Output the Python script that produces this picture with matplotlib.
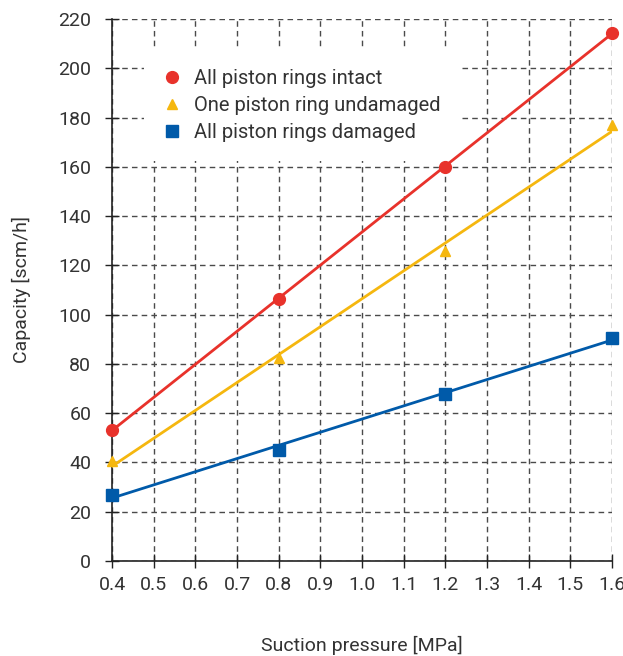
import numpy as np
import matplotlib.pyplot as plt
from matplotlib.lines import Line2D

plt.rcParams['font.family'] = ['Roboto', 'DejaVu Sans']
plt.rcParams['font.stretch'] = 'condensed'

pressure = [0.4, 0.8, 1.2, 1.6]
intact = [53.3, 106.3, 160.0, 214.3]
one_ring = [40.5, 82.3, 125.8, 177.0]
damaged = [26.8, 45.2, 67.8, 90.5]

labels = ["All piston rings intact", "One piston ring undamaged", "All piston rings damaged"]
colors = ["#e8322b", "#f5b70f", "#005aa9"]
markers = ["o", "^", "s"]

xticks = [0.4, 0.5, 0.6, 0.7, 0.8, 0.9, 1.0, 1.1, 1.2, 1.3, 1.4, 1.5, 1.6]
yticks = [0, 20, 40, 60, 80, 100, 120, 140, 160, 180, 200, 220]

txt = "#333333"

fig = plt.figure(figsize=(6.23, 6.56), dpi=100)
ax = fig.add_axes([0.18, 0.145, 0.802, 0.826])

for ys, c, m in zip([intact, one_ring, damaged], colors, markers):
    # trend line (least squares) + measured points
    k, b = np.polyfit(pressure, ys, 1)
    xs = np.array([pressure[0], pressure[-1]])
    ax.plot(xs, k * xs + b, color=c, lw=2, zorder=3)
    ax.plot(pressure, ys, ls="none", marker=m, ms=8.5 if m != "^" else 7.5,
            color=c, zorder=4, clip_on=False)

ax.set_xlim(0.4, 1.6)
ax.set_ylim(0, 220)
ax.set_xticks(xticks)
ax.set_xticklabels([f"{v:.1f}" for v in xticks])
ax.set_yticks(yticks)

ax.grid(True, ls=(0, (4, 3)), color="#4a4a4a", lw=1)
for s in ["top", "right"]:
    ax.spines[s].set_visible(False)
for s in ["left", "bottom"]:
    ax.spines[s].set_color("#222222")
    ax.spines[s].set_linewidth(1.2)
ax.tick_params(direction="inout", length=10, width=1, color="#222222",
               labelsize=14, labelcolor=txt)
ax.tick_params(axis="y", pad=10)
ax.tick_params(axis="x", pad=6)

ax.set_xlabel("Suction pressure [MPa]", fontsize=14, color=txt, labelpad=30)
ax.set_ylabel("Capacity [scm/h]", fontsize=14, color=txt, labelpad=20)

handles = [Line2D([], [], ls="none", marker=m, color=c, ms=8.5 if m != "^" else 7.5)
           for c, m in zip(colors, markers)]
leg = ax.legend(handles, labels, loc="upper left", bbox_to_anchor=(0.063, 0.942),
                frameon=True, facecolor="white", edgecolor="none", framealpha=1,
                fontsize=14.5, handlelength=1.0, handletextpad=0.6,
                labelspacing=0.42, borderpad=0.9, borderaxespad=0, fancybox=False)
for t in leg.get_texts():
    t.set_color(txt)
leg.set_zorder(2.5)

fig.savefig("out.png", dpi=100)
